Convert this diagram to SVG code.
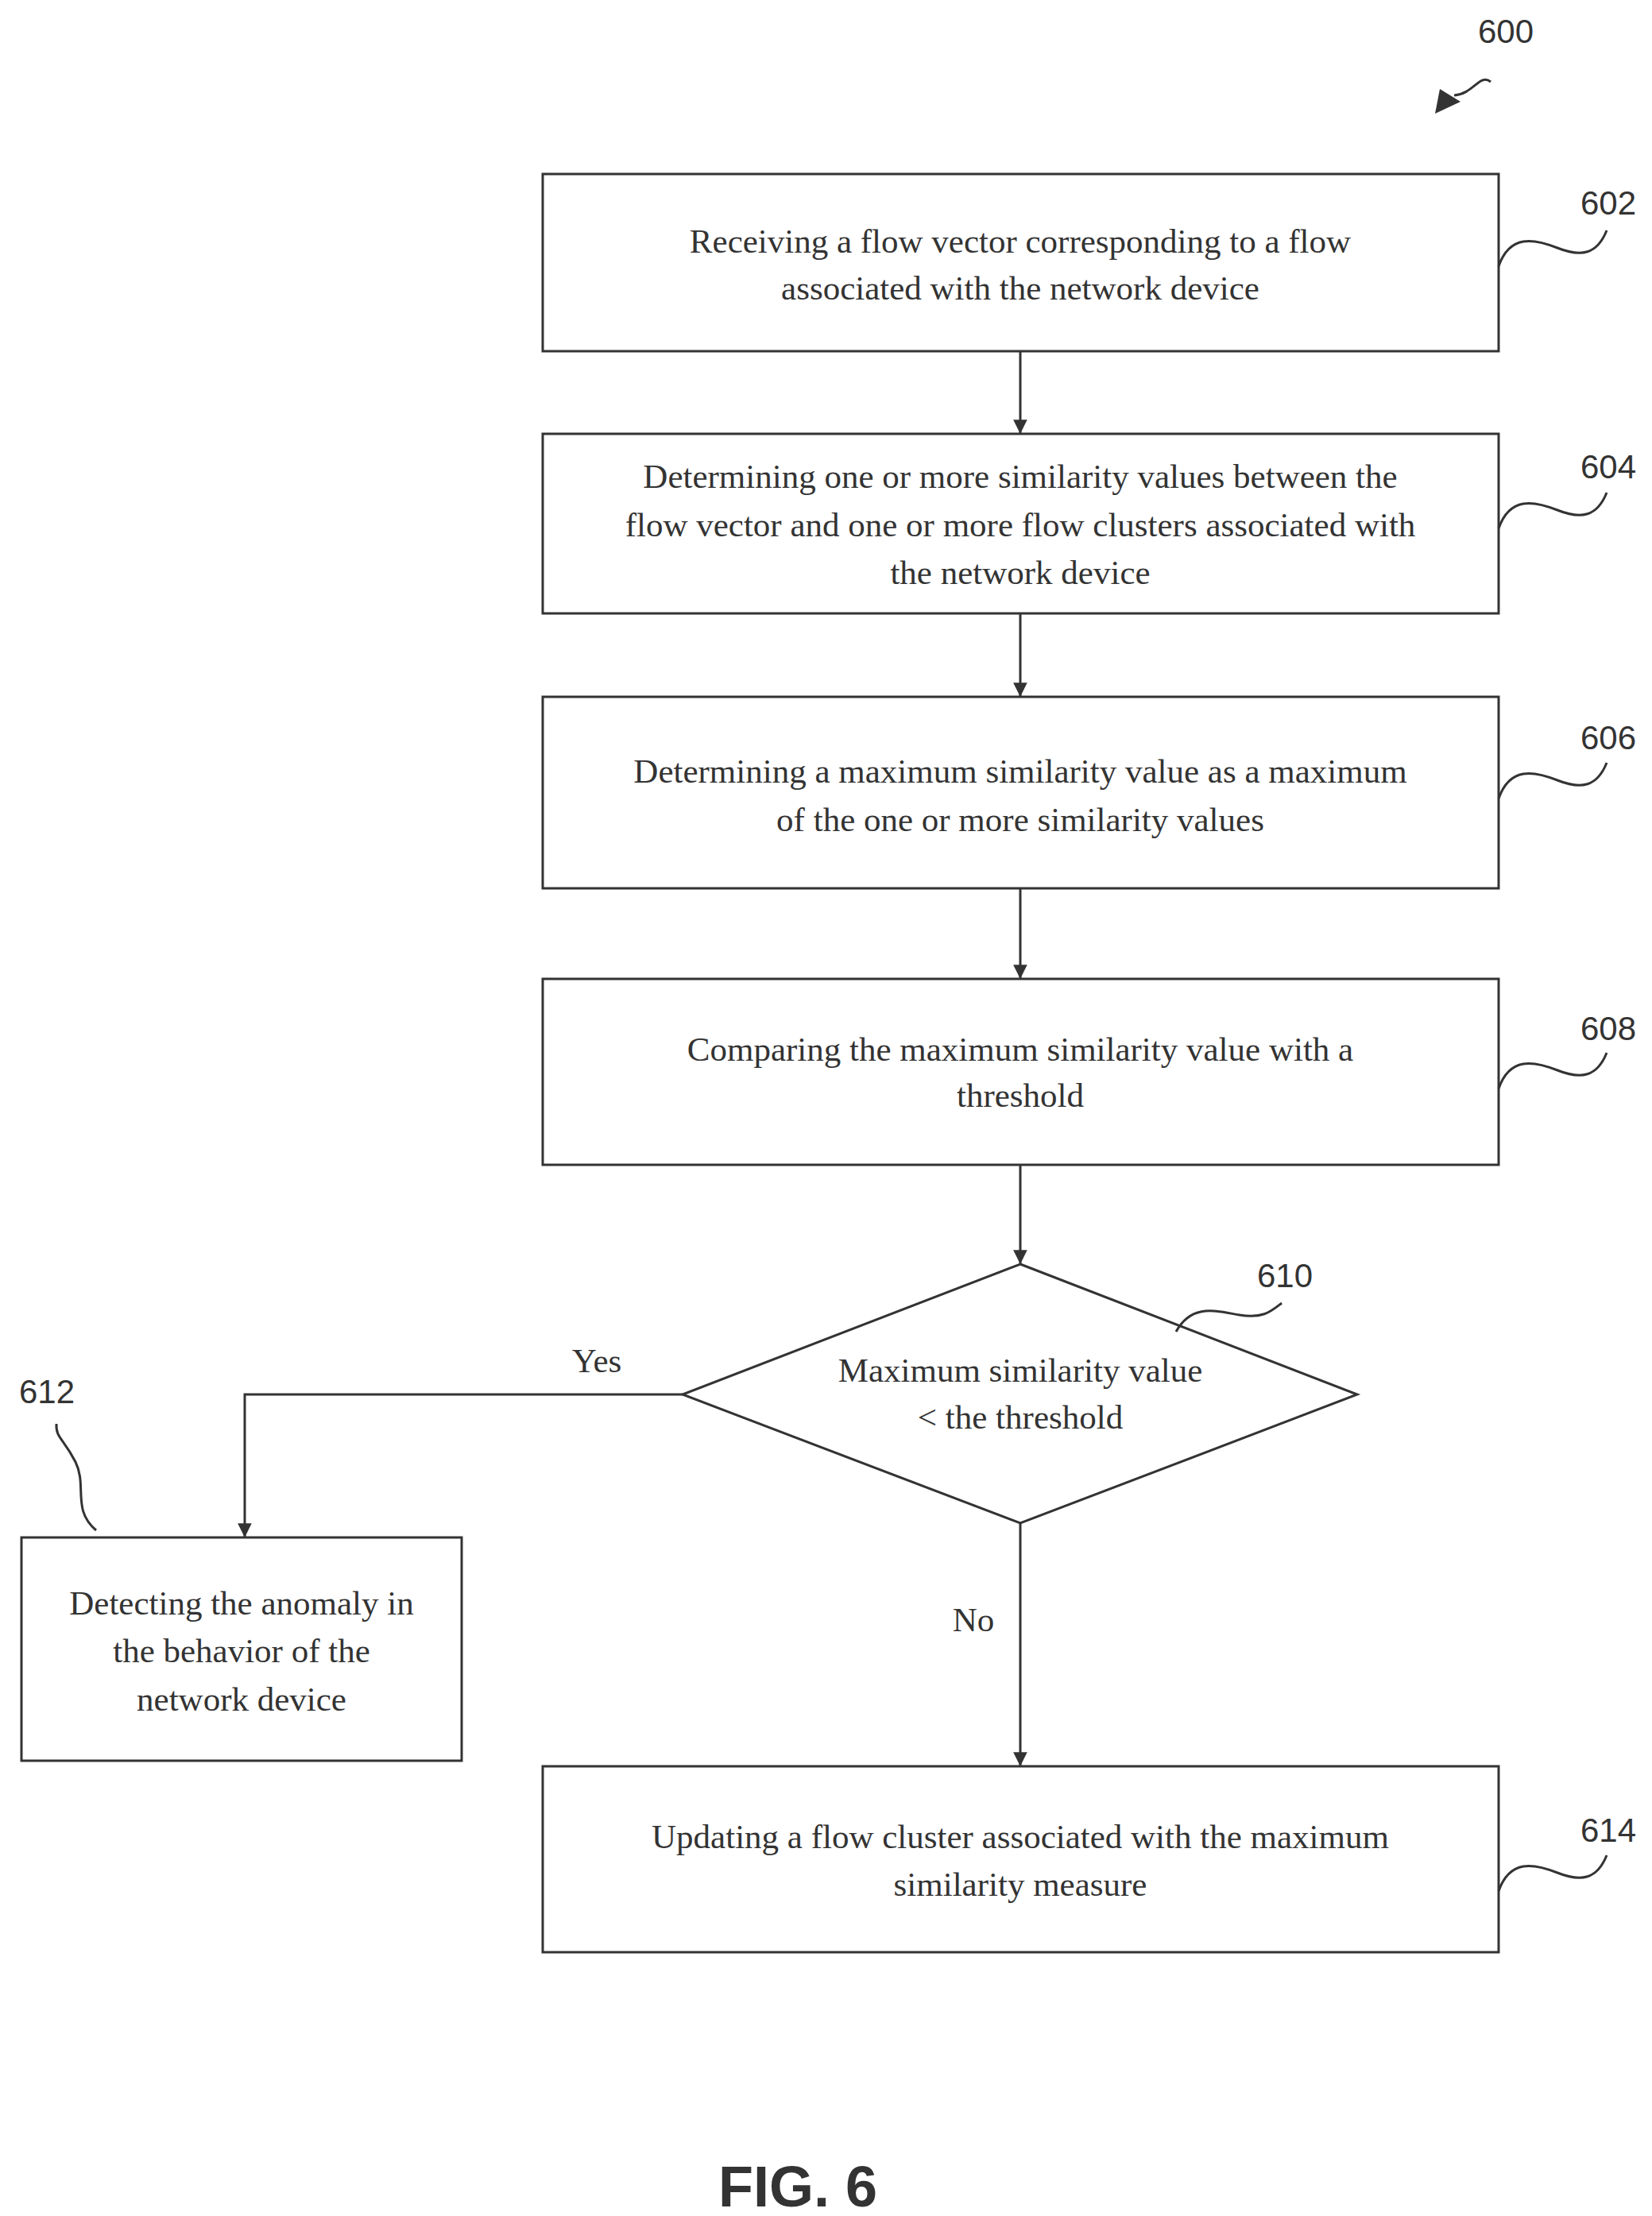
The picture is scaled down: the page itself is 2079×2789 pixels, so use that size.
<svg xmlns="http://www.w3.org/2000/svg" width="2079" height="2789" viewBox="0 0 2079 2789">
<style>
.b{fill:#fff;stroke:#333;stroke-width:3}
.t{font-family:"Liberation Serif",serif;font-size:43px;fill:#333;text-anchor:middle;dominant-baseline:central}
.l{font-family:"Liberation Sans",sans-serif;font-size:42px;fill:#333;text-anchor:middle;dominant-baseline:central}
.c{fill:none;stroke:#333;stroke-width:3}
</style>
<defs><marker id="a" viewBox="0 0 10 10" refX="10" refY="5" markerWidth="8" markerHeight="8" orient="auto" markerUnits="userSpaceOnUse" style="overflow:visible"><path d="M0,0L10,5L0,10z" fill="#333" transform="scale(2.2) translate(-5.5,-2.7)"/></marker></defs>
<rect width="2079" height="2789" fill="#fff"/>
<g id="connectors">
<path class="c" d="M1284,442V546" marker-end="url(#a)"/>
<path class="c" d="M1284,772V877" marker-end="url(#a)"/>
<path class="c" d="M1284,1118V1232" marker-end="url(#a)"/>
<path class="c" d="M1284,1466V1591" marker-end="url(#a)"/>
<path class="c" d="M859,1755H308V1935" marker-end="url(#a)"/>
<path class="c" d="M1284,1917V2223" marker-end="url(#a)"/>
<text class="t" x="751" y="1712">Yes</text>
<text class="t" x="1225" y="2038">No</text>
</g>
<g id="n600"><text class="l" x="1895" y="39">600</text><path class="c" d="M1876,103C1862,92 1855,118 1830,120"/><path d="M1806,143L1812,112L1838,128z" fill="#333"/></g>
<g id="n602"><rect class="b" x="683" y="219" width="1203" height="223"/><text class="t" x="1284" y="303">Receiving a flow vector corresponding to a flow</text><text class="t" x="1284" y="362">associated with the network device</text><text class="l" x="2024" y="255">602</text><path class="c" d="M1886,335C1900,295 1930,300 1960,312S2010,320 2022,290"/></g>
<g id="n604"><rect class="b" x="683" y="546" width="1203" height="226"/><text class="t" x="1284" y="599">Determining one or more similarity values between the</text><text class="t" x="1284" y="660">flow vector and one or more flow clusters associated with</text><text class="t" x="1284" y="720">the network device</text><text class="l" x="2024" y="587">604</text><path class="c" d="M1886,665C1900,625 1930,630 1960,642S2010,650 2022,620"/></g>
<g id="n606"><rect class="b" x="683" y="877" width="1203" height="241"/><text class="t" x="1284" y="970">Determining a maximum similarity value as a maximum</text><text class="t" x="1284" y="1031">of the one or more similarity values</text><text class="l" x="2024" y="928">606</text><path class="c" d="M1886,1005C1900,965 1930,970 1960,982S2010,990 2022,960"/></g>
<g id="n608"><rect class="b" x="683" y="1232" width="1203" height="234"/><text class="t" x="1284" y="1320">Comparing the maximum similarity value with a</text><text class="t" x="1284" y="1378">threshold</text><text class="l" x="2024" y="1294">608</text><path class="c" d="M1886,1370C1900,1330 1930,1335 1960,1347S2010,1355 2022,1325"/></g>
<g id="n610"><path class="b" d="M1284,1591L1708,1755L1284,1917L859,1755z"/><text class="t" x="1284" y="1724">Maximum similarity value</text><text class="t" x="1284" y="1783">&lt; the threshold</text><text class="l" x="1617" y="1605">610</text><path class="c" d="M1480,1676C1500,1640 1530,1650 1560,1655S1600,1650 1613,1640"/></g>
<g id="n612"><rect class="b" x="27" y="1935" width="554" height="281"/><text class="t" x="304" y="2017">Detecting the anomaly in</text><text class="t" x="304" y="2077">the behavior of the</text><text class="t" x="304" y="2138">network device</text><text class="l" x="59" y="1751">612</text><path class="c" d="M121,1926C90,1900 110,1870 95,1840S70,1810 71,1792"/></g>
<g id="n614"><rect class="b" x="683" y="2223" width="1203" height="234"/><text class="t" x="1284" y="2311">Updating a flow cluster associated with the maximum</text><text class="t" x="1284" y="2371">similarity measure</text><text class="l" x="2024" y="2303">614</text><path class="c" d="M1886,2380C1900,2340 1930,2345 1960,2357S2010,2365 2022,2335"/></g>
<text x="1004" y="2752" style="font-family:'Liberation Sans',sans-serif;font-size:72px;font-weight:bold;fill:#333;text-anchor:middle;dominant-baseline:central">FIG. 6</text>
</svg>
